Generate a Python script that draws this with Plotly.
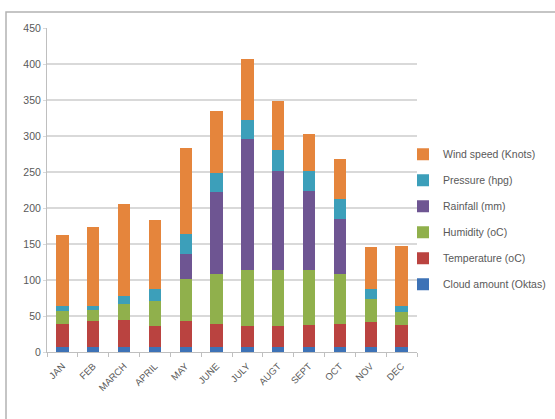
import plotly.graph_objects as go

months = ["JAN", "FEB", "MARCH", "APRIL", "MAY", "JUNE", "JULY", "AUGT", "SEPT", "OCT", "NOV", "DEC"]

cloud_amount = [7, 7, 7, 7, 7, 7, 7, 7, 7, 7, 7, 7]
temperature = [32.5, 36, 37, 29, 36.5, 32.5, 29, 29, 30, 32.5, 34, 31]
humidity = [17.5, 16, 22, 35, 58.5, 68.5, 78, 78, 77, 68.5, 32, 17.5]
rainfall = [0, 0, 0, 0, 34, 114.5, 182, 138, 110, 77, 0, 0]
pressure = [6.5, 5.5, 12, 16, 27.5, 26.5, 26, 28, 27.5, 27, 14, 8]
wind_speed = [98.5, 108.5, 127, 97, 120, 86, 85, 69, 51, 56, 59, 83.5]

series = [
    ("Cloud amount (Oktas)", cloud_amount, "#3D72B6"),
    ("Temperature (oC)", temperature, "#BA4340"),
    ("Humidity (oC)", humidity, "#90B04C"),
    ("Rainfall (mm)", rainfall, "#6E5592"),
    ("Pressure (hpg)", pressure, "#3C9FBA"),
    ("Wind speed (Knots)", wind_speed, "#E5853C"),
]

fig = go.Figure()
for i, (name, vals, color) in enumerate(series):
    fig.add_trace(go.Bar(
        x=months, y=vals, name=name, legendgroup=f"g{i}",
        legendrank=1000 - i,  # top of the stack listed first
        marker=dict(color=color, line=dict(width=0)),
    ))

text_color = "#595959"
plot_w = 555 - 47 - 10
fig.update_layout(
    width=555, height=419,
    barmode="stack", bargap=0.6,
    paper_bgcolor="white", plot_bgcolor="white",
    margin=dict(l=47, r=10, t=28, b=67, autoexpand=False),
    font=dict(family="Liberation Sans, Arial, sans-serif", size=10.5, color=text_color),
    showlegend=True,
    legend=dict(
        traceorder="grouped", tracegroupgap=7,
        x=(403 - 47) / plot_w, xanchor="left", y=0.41, yanchor="middle",
        bgcolor="rgba(0,0,0,0)",
        font=dict(size=10.5, color=text_color),
        itemwidth=30,
    ),
    xaxis=dict(
        type="category", domain=[0, 370 / plot_w],
        tickangle=-45, showgrid=False,
        showline=True, linecolor="#BFBFBF", linewidth=1,
        ticks="outside", tickson="boundaries", ticklen=4, tickcolor="#BFBFBF",
        ticklabelstandoff=4,
        tickfont=dict(size=9.5, color=text_color),
    ),
    yaxis=dict(
        range=[0, 450], dtick=50, showgrid=True, gridcolor="#D9D9D9", gridwidth=1.5,
        showline=True, linecolor="#BFBFBF", linewidth=1,
        ticks="outside", ticklen=3, tickcolor="#D9D9D9",
        zeroline=False, tickfont=dict(size=10.5, color=text_color),
    ),
    shapes=[dict(
        type="rect", xref="paper", yref="paper",
        x0=-41 / plot_w, y0=-0.5, x1=1.2, y1=1.049,
        line=dict(color="#B3B3B3", width=1.5), fillcolor="rgba(0,0,0,0)",
        layer="below",
    )],
)

fig.write_html("out.html")
